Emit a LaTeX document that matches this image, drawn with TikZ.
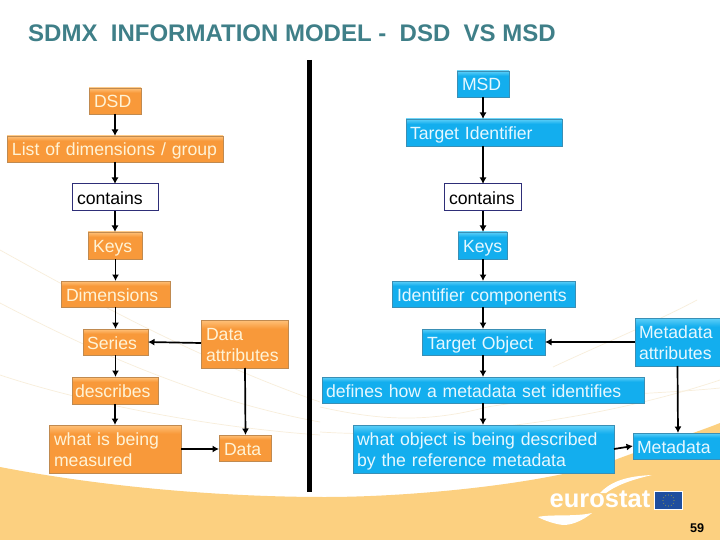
\documentclass[tikz,border=0pt]{standalone}
\usepackage{fontspec}
\setmainfont{Liberation Sans}
\usetikzlibrary{arrows.meta,shadows}
\definecolor{og}{HTML}{F8993A}
\definecolor{oglight}{HTML}{FFC27A}
\definecolor{ogedge}{HTML}{C08A50}
\definecolor{bl}{HTML}{13AEEE}
\definecolor{bllight}{HTML}{5FD0F8}
\definecolor{bledge}{HTML}{3A8FB5}
\definecolor{ogtext}{HTML}{FFF3D6}
\definecolor{bltext}{HTML}{E6F8FF}
\definecolor{swoosh}{HTML}{FCD080}
\definecolor{faint}{HTML}{F8EEDB}
\definecolor{titlec}{HTML}{3F7F88}
\definecolor{framec}{HTML}{2E2E78}
\definecolor{flagc}{HTML}{1F4E9E}
\pgfdeclareverticalshading{ogshade}{100bp}{color(0bp)=(og); color(66bp)=(og); color(75bp)=(oglight); color(100bp)=(oglight)}
\pgfdeclareverticalshading{blshade}{100bp}{color(0bp)=(bl); color(66bp)=(bl); color(75bp)=(bllight); color(100bp)=(bllight)}
\tikzset{
  boxbase/.style={inner sep=0pt,outer sep=0pt,font=\fontsize{17.65}{21}\selectfont,anchor=north west,align=left,text height=18pt,text depth=4pt},
  twoline/.style={text height=18pt,text depth=26pt},
  boxshadow/.style={drop shadow={shadow xshift=.8pt,shadow yshift=-1.2pt,opacity=.4,fill=black}},
  orangebox/.style={boxbase,shading=ogshade,draw=ogedge,line width=.6pt,text=ogtext,boxshadow},
  bluebox/.style={boxbase,shading=blshade,draw=bledge,line width=.6pt,text=bltext,boxshadow},
  framebox/.style={boxbase,fill=white,draw=framec,line width=1pt,text=black},
  flow/.style={line width=1.7pt,draw=black,-{Latex[length=6.5pt,width=7pt]}}
}
% style, name, x1, y1, x2, y2, left inset, text
\newcommand{\bx}[8]{%
  \node[#1,text width=#5pt-#3pt,minimum height=#6pt-#4pt] (#2) at (#3,#4) {\hspace*{#7pt}#8};
}
\begin{document}
\begin{tikzpicture}[x=1pt,y=-1pt]
\useasboundingbox (0,0) rectangle (720,540);
\fill[white] (0,0) rectangle (720,540);
% background
\draw[faint,line width=.7pt] (0,375) .. controls (60,395) and (180,425) .. (320,435);
\draw[faint,line width=.7pt] (0,303) .. controls (90,350) and (200,400) .. (320,422);
\draw[faint,line width=.7pt] (0,250) .. controls (90,300) and (200,360) .. (320,402);
\draw[faint,line width=.7pt] (320,407) .. controls (370,418) and (420,425) .. (487,407) .. controls (560,395) and (650,395) .. (720,388);
\draw[faint,line width=.7pt] (320,432) .. controls (450,440) and (600,420) .. (720,380);
\draw[faint,line width=.7pt] (553,367) .. controls (600,345) and (660,320) .. (697,300);
\fill[swoosh] (0,467) .. controls (120,490) and (240,497) .. (325,497) .. controls (420,497) and (560,482) .. (620,458) .. controls (655,445) and (690,435) .. (720,423) -- (720,540) -- (0,540) -- cycle;
% divider
\draw[black,line width=4.5pt] (309.5,60) -- (309.5,492);
% title
\node[anchor=base west,inner sep=0pt,text=titlec,font=\fontsize{24}{28}\selectfont\bfseries] (title) at (28,42) {SDMX\ \ INFORMATION MODEL -\ \ DSD\ \ VS MSD};
% left boxes
\bx{orangebox}{dsd}{89}{88}{141}{114}{5}{DSD}
\bx{orangebox}{list}{7}{136}{223}{162}{5}{List of dimensions / group}
\bx{framebox}{lcont}{72}{184}{158}{211}{5}{contains}
\bx{orangebox}{lkeys}{88}{232}{142}{259}{5}{Keys}
\bx{orangebox}{dims}{61}{281}{170}{307}{5}{Dimensions}
\bx{orangebox}{series}{83}{329}{148}{355}{4}{Series}
\bx{orangebox,twoline}{dattr}{201}{320}{288}{368}{5}{Data\\\hspace*{5pt}attributes}
\bx{orangebox}{descr}{72}{377}{158}{404}{3}{describes}
\bx{orangebox,twoline}{what}{49}{425}{181}{473}{5}{what is being\\\hspace*{5pt}measured}
\bx{orangebox}{data}{219}{435}{271}{461}{5}{Data}
% right boxes
\bx{bluebox}{msd}{457}{71}{509}{97}{5}{MSD}
\bx{bluebox}{tid}{406}{119}{562}{146}{4}{Target Identifier}
\bx{framebox}{rcont}{444}{184}{521}{211}{5}{contains}
\bx{bluebox}{rkeys}{458}{232}{507}{259}{5}{Keys}
\bx{bluebox}{idc}{392}{281}{575}{307}{5}{Identifier components}
\bx{bluebox}{tobj}{422}{329}{545}{355}{5}{Target Object}
\bx{bluebox,twoline}{mattr}{635}{318}{720}{366}{4}{Metadata\\\hspace*{4pt}attributes}
\bx{bluebox}{defs}{322}{377}{644}{403}{4}{defines how a metadata set identifies}
\bx{bluebox,twoline}{wobj}{353}{425}{614}{473}{4}{what object is being described\\\hspace*{4pt}by the reference metadata}
\bx{bluebox}{meta}{633}{433}{720}{459}{4}{Metadata}
% left connectors
\draw[flow] (115,0 |- dsd.south) -- (115,0 |- list.north);
\draw[flow] (115,0 |- list.south) -- (115,0 |- lcont.north);
\draw[flow] (115,0 |- lcont.south) -- (115,0 |- lkeys.north);
\draw[flow] (115.5,0 |- lkeys.south) -- (115.5,0 |- dims.north);
\draw[flow] (115.5,0 |- dims.south) -- (115.5,0 |- series.north);
\draw[flow] (115.5,0 |- series.south) -- (115.5,0 |- descr.north);
\draw[flow] (115,0 |- descr.south) -- (115,0 |- what.north);
\draw[flow] (dattr.west |- 0,343) -- (series.east |- 0,342);
\draw[flow] (245,0 |- dattr.south) -- (245.5,0 |- data.north);
\draw[flow] (what.east |- 0,449) -- (data.west |- 0,449);
% right connectors
\draw[flow] (483,0 |- msd.south) -- (483,0 |- tid.north);
\draw[flow] (483,0 |- tid.south) -- (483,0 |- rcont.north);
\draw[flow] (483,0 |- rcont.south) -- (483,0 |- rkeys.north);
\draw[flow] (483,0 |- rkeys.south) -- (483,0 |- idc.north);
\draw[flow] (483,0 |- idc.south) -- (483,0 |- tobj.north);
\draw[flow] (483,0 |- tobj.south) -- (483,0 |- defs.north);
\draw[flow] (483,0 |- defs.south) -- (483,0 |- wobj.north);
\draw[flow] (mattr.west |- 0,342) -- (tobj.east |- 0,342);
\draw[flow] (677.5,0 |- mattr.south) -- (678,0 |- meta.north);
\draw[flow] (wobj.east |- 0,449) -- (meta.west |- 0,446);
% logo
\node[anchor=base west,inner sep=0pt,text=white,font=\fontsize{25.5}{28}\selectfont\bfseries] (logo) at (549.5,507) {eurostat};
\fill[white] (600,493) .. controls (612,480) and (630,476) .. (652,475) .. controls (635,479) and (618,484) .. (606,493) -- cycle;
\fill[white] (538,517) .. controls (550,514) and (575,517) .. (592,513) .. controls (582,521) and (572,525) .. (563,525) .. controls (555,524) and (545,521) .. (538,517) -- cycle;
\draw[white,line width=.6pt] (654.5,491.5) rectangle (682.5,509.5);
\fill[flagc] (655,492) rectangle (682,509);
\foreach \a in {0,30,...,330} \fill[yellow!80!orange] ({668.5+5.5*cos(\a)},{500.5+5.5*sin(\a)}) circle (.45);
% page number
\node[anchor=base,inner sep=0pt,text=black,font=\fontsize{12.6}{14}\selectfont\bfseries] (pg) at (697,532) {59};
\end{tikzpicture}
\end{document}
